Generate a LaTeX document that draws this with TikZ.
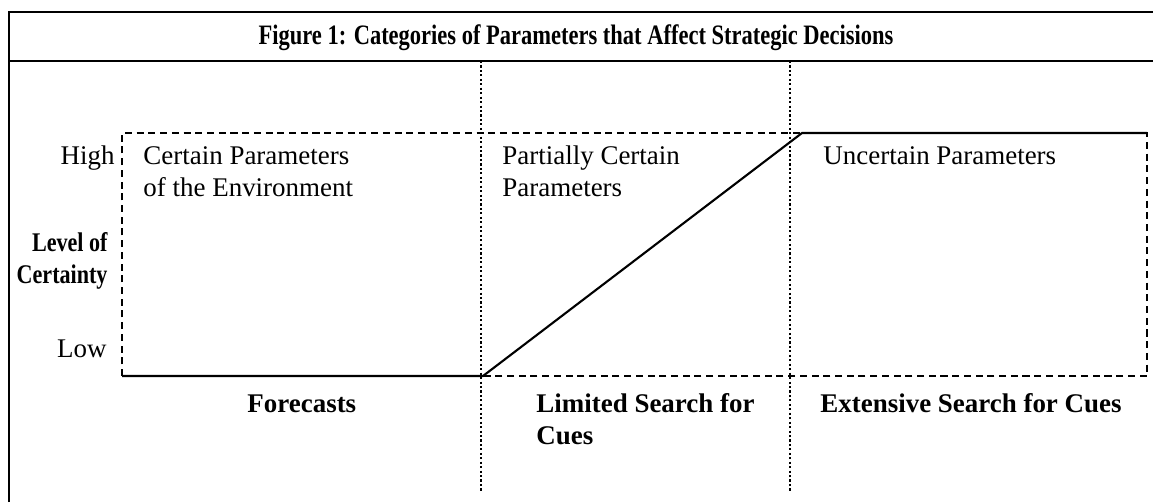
\documentclass[tikz,border=0pt]{standalone}
\usepackage{fontspec}
\setmainfont{Liberation Serif}
\usepackage{graphicx}
\usetikzlibrary{positioning,calc}

\begin{document}
\begin{tikzpicture}[
	x=0.015cm,y=-0.015cm,
	frameline/.style={line width=1.1pt},
	divider/.style={densely dotted,line width=0.9pt},
	boxline/.style={dash pattern=on 3pt off 2pt,line width=0.6pt},
	levelline/.style={line width=0.9pt},
	celltext/.style={inner sep=0pt,align=left,font=\fontsize{11.5}{13.6}\selectfont},
	headtext/.style={inner sep=0pt,align=left,font=\fontsize{11.5}{13.6}\selectfont\bfseries}
	]
	
	\useasboundingbox (0,0) rectangle (1153,502);
	
	% ---------------------------------------------------------
	% FRAME AND TITLE
	% ---------------------------------------------------------
	
	\coordinate (frameTL) at (9,12);
	\coordinate (frameTR) at (1153,12);
	\coordinate (frameBL) at (9,502);
	\coordinate (ruleL) at (9,61);
	\coordinate (ruleR) at (1153,61);
	
	\draw[frameline] (frameBL) -- (frameTL) -- (frameTR);
	\draw[frameline] (ruleL) -- (ruleR);
	
	\node[
	inner sep=0pt,
	anchor=base,
	font=\fontsize{12}{14}\selectfont\bfseries
	]
	(title) at (576,44)
	{\scalebox{0.8}[1]{Figure 1: Categories of Parameters that Affect Strategic Decisions}};
	
	% ---------------------------------------------------------
	% COLUMN DIVIDERS
	% ---------------------------------------------------------
	
	\coordinate (divAtop) at (481,61);
	\coordinate (divAbot) at (481,492);
	\coordinate (divBtop) at (790,61);
	\coordinate (divBbot) at (790,492);
	
	\draw[divider] (divAtop) -- (divAbot);
	\draw[divider] (divBtop) -- (divBbot);
	
	% ---------------------------------------------------------
	% CERTAINTY BOX
	% ---------------------------------------------------------
	
	\coordinate (boxTL) at (122,133);
	\coordinate (boxTR) at (1147,133);
	\coordinate (boxBL) at (122,376);
	\coordinate (boxBR) at (1147,376);
	
	\draw[boxline] (boxBL) -- (boxTL) -- (boxTR) -- (boxBR) -- (boxBL);
	
	% ---------------------------------------------------------
	% LEVEL OF CERTAINTY
	% ---------------------------------------------------------
	
	\coordinate (lowStart) at (122,376);
	\coordinate (lowEnd) at (483,376);
	\coordinate (highStart) at (802,133);
	\coordinate (highEnd) at (1147,133);
	
	\draw[levelline] (lowStart) -- (lowEnd) -- (highStart) -- (highEnd);
	
	% ---------------------------------------------------------
	% AXIS LABELS
	% ---------------------------------------------------------
	
	\node[celltext,anchor=base east] (high) at (115,164) {High};
	
	% multi-line nodes: base is the last line
	\node[
	headtext,
	anchor=base east,
	align=right
	]
	(level) at (108,283)
	{\scalebox{0.82}[1]{Level of}\\\scalebox{0.82}[1]{Certainty}};
	
	\node[celltext,anchor=base east] (low) at (107,357) {Low};
	
	% ---------------------------------------------------------
	% PARAMETER CATEGORIES
	% ---------------------------------------------------------
	
	\node[celltext,anchor=base west] (certain) at (143,196)
	{Certain Parameters\\of the Environment};
	
	\node[celltext,anchor=base west] (partial) at (502,196)
	{Partially Certain\\Parameters};
	
	\node[celltext,anchor=base west] (uncertain) at (823,164)
	{Uncertain Parameters};
	
	% ---------------------------------------------------------
	% RESPONSES
	% ---------------------------------------------------------
	
	\node[headtext,anchor=base west] (forecasts) at (247,412)
	{Forecasts};
	
	\node[headtext,anchor=base west] (limited) at (536,444)
	{Limited Search for\\Cues};
	
	\node[headtext,anchor=base west] (extensive) at (820,412)
	{Extensive Search for Cues};
	
\end{tikzpicture}
\end{document}
